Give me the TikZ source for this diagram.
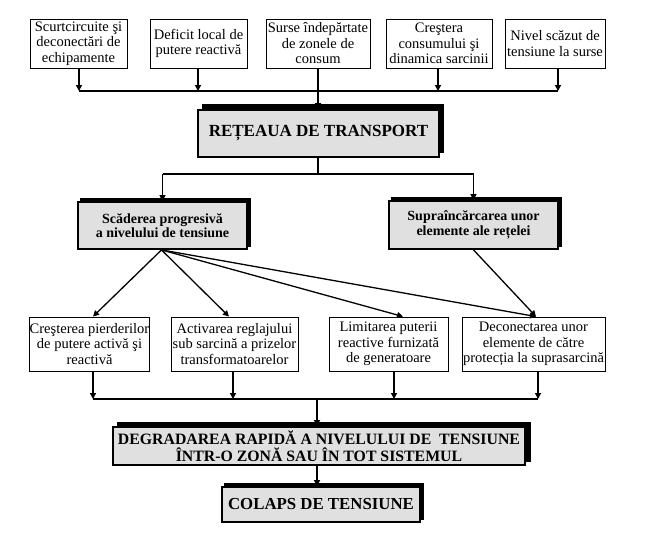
\documentclass[tikz,border=0pt]{standalone}
\usepackage{fontspec}
\setmainfont{Liberation Serif}
\usetikzlibrary{arrows.meta}
\definecolor{boxgray}{RGB}{224,224,224}
\pgfdeclarelayer{bg}
\pgfsetlayers{bg,main}
\begin{document}
\begin{tikzpicture}[x=1pt,y=-1pt,
  wbox/.style={draw,line width=0.9pt,fill=white,align=center,inner sep=0pt,
    font=\fontsize{14.5}{15.5}\selectfont},
  gbox/.style={draw,line width=1.8pt,fill=boxgray,align=center,inner sep=0pt,
    font=\bfseries\fontsize{14}{14.5}\selectfont},
  shadowfill/.style={fill=black},
  arr/.style={-{Triangle[length=6pt,width=6pt]}},
  thick2/.style={line width=2pt},
  thin1/.style={line width=1.3pt}
]
\useasboundingbox (0,0) rectangle (646,533);

% top boxes
\node[wbox,minimum width=97pt,minimum height=49pt] (t1) at (78.5,43.5) {Scurtcircuite şi\\deconectări de\\echipamente};
\node[wbox,minimum width=97pt,minimum height=49pt] (t2) at (198.5,43.5) {Deficit local de\\putere reactivă};
\node[wbox,minimum width=104pt,minimum height=49pt] (t3) at (318,43.5) {Surse îndepărtate\\de zonele de\\consum};
\node[wbox,minimum width=106pt,minimum height=49pt] (t4) at (439,43.5) {Creştera\\consumului şi\\dinamica sarcinii};
\node[wbox,minimum width=100pt,minimum height=49pt] (t5) at (555,43.5) {Nivel scăzut de\\tensiune la surse};

% network box
\node[gbox,minimum width=241pt,minimum height=47pt,font=\bfseries\fontsize{17}{18}\selectfont] (ret) at (318.5,133.5) {REȚEAUA DE TRANSPORT};

\coordinate (busA) at (318,91);
\draw[thick2] ([xshift=0.5pt]t1.south |- busA) -- ([xshift=3pt]t5.south |- busA);
\foreach \n/\dx in {t1/0.5,t2/-0.5,t4/-1,t5/3}{
  \draw[thick2,arr] ([xshift=\dx pt]\n.south) -- ([xshift=\dx pt]\n.south |- busA);
}
\draw[thick2] (t3.south) -- (busA);
\draw[thick2,arr] (busA) -- (ret.north -| busA);

% second level
\node[gbox,minimum width=169pt,minimum height=47pt] (sc) at (162.5,225.5) {Scăderea progresivă\\a nivelului de tensiune};
\node[gbox,minimum width=169pt,minimum height=48pt] (su) at (473.5,225) {Supraîncărcarea unor\\elemente ale rețelei};

\coordinate (busB) at (318,174);
\draw[thin1] (ret.south -| busB) -- (busB);
\draw[thin1] (sc.north |- busB) -- (su.north |- busB);
\draw[thin1,arr] (sc.north |- busB) -- (sc.north);
\draw[thin1,arr] (su.north |- busB) -- (su.north);

% third level
\node[wbox,minimum width=119pt,minimum height=54pt] (b1) at (89.5,344) {Creşterea pierderilor\\de putere activă şi\\reactivă};
\node[wbox,minimum width=127pt,minimum height=54pt] (b2) at (234.5,344) {Activarea reglajului\\sub sarcină a prizelor\\transformatoarelor};
\node[wbox,minimum width=119pt,minimum height=54pt] (b3) at (388.5,344) {Limitarea puterii\\reactive furnizată\\de generatoare};
\node[wbox,minimum width=143pt,minimum height=54pt] (b4) at (533.5,344) {Deconectarea unor\\elemente de către\\protecția la suprasarcină};

\draw[thin1,arr] ([xshift=-1pt]sc.south) -- ([xshift=3.5pt]b1.north);
\draw[thin1,arr] ([xshift=-1pt]sc.south) -- ([xshift=-5.5pt]b2.north);
\draw[thin1,arr] ([xshift=-1pt]sc.south) -- ([xshift=14.5pt]b3.north);
\draw[thin1,arr] ([xshift=-1pt]sc.south) -- ([xshift=2.5pt]b4.north);
\draw[thin1,arr] (su.south) -- ([xshift=2.5pt]b4.north);

% bottom
\node[gbox,minimum width=412pt,minimum height=38pt,font=\bfseries\fontsize{15.8}{16.7}\selectfont] (deg) at (319,446) {DEGRADAREA RAPIDĂ A NIVELULUI DE~ TENSIUNE\\ÎNTR-O ZONĂ SAU ÎN TOT SISTEMUL};
\node[gbox,minimum width=198pt,minimum height=35pt,font=\bfseries\fontsize{16.8}{18}\selectfont] (col) at (321,504.5) {COLAPS DE TENSIUNE};

\coordinate (busC) at (317,399);
\draw[thick2] ([xshift=3.5pt]b1.south |- busC) -- ([xshift=4.5pt]b4.south |- busC);
\foreach \n/\dx in {b1/3.5,b2/-1.5,b3/5.5,b4/4.5}{
  \draw[thin1,arr] ([xshift=\dx pt]\n.south) -- ([xshift=\dx pt]\n.south |- busC);
}
\draw[thick2,arr] (busC) -- (deg.north -| busC);
\draw[thick2,arr] (deg.south -| busC) -- (col.north -| busC);

% shadows behind the grey boxes
\begin{pgfonlayer}{bg}
  \fill[shadowfill] ([shift={(4.5,-5)}]ret.south west) rectangle ([shift={(4.5,-5)}]ret.north east);
  \fill[shadowfill] ([shift={(3,-3)}]sc.south west) rectangle ([shift={(3,-3)}]sc.north east);
  \fill[shadowfill] ([shift={(3,-3)}]su.south west) rectangle ([shift={(3,-3)}]su.north east);
  \fill[shadowfill] ([shift={(5,-4)}]deg.south west) rectangle ([shift={(5,-4)}]deg.north east);
  \fill[shadowfill] ([shift={(3,-3)}]col.south west) rectangle ([shift={(3,-3)}]col.north east);
\end{pgfonlayer}
\end{tikzpicture}
\end{document}
